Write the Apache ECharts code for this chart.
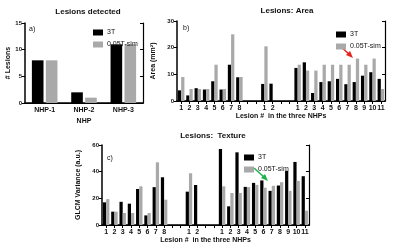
<!DOCTYPE html>
<html>
<head>
<meta charset="utf-8">
<script src="https://cdn.jsdelivr.net/npm/echarts@6/dist/echarts.min.js"></script>
<style>
  html, body { margin: 0; padding: 0; background: #fff; }
  #chart { width: 400px; height: 249px; }
</style>
</head>
<body>
<div id="chart"></div>
<script>
// panel a - lesions detected per NHP
var nhpNames = ['NHP-1', 'NHP-2', 'NHP-3'];
var detected3T = [8, 2, 11];
var detectedSim = [8, 1, 11];

// panel b / c share the lesion axis (empty slots separate the three NHPs)
var lesionLabels = ['1','2','3','4','5','6','7','8','','','1','2','','','1','2','3','4','5','6','7','8','9','10','11'];
var area3T  = [4, 2.1, 4.8, 4.3, 7.4, 4.3, 13.6, 8.9, null, null, 6.4, 6.5, null, null, 12.4, 14.5, 3, 7.1, 7.4, 8.3, 6.3, 7.1, 9.5, 10.8, 8.3];
var areaSim = [9, 4.5, 4.5, 4.5, 13.6, 4.5, 25, 9, null, null, 20.5, null, null, null, 13.6, 11.4, 11.4, 13.6, 13.6, 13.6, 13.6, 15.9, 13.6, 15.9, 4.5];
var tex3T   = [17, 10, 17.4, 16, 27, 7.2, 28.4, 35.8, null, null, 25, 30, null, null, 57, 14, 54.5, 28.6, 31.6, 33.4, 25.6, 29.6, 40.6, 47.3, 36.6];
var texSim  = [19.4, 10, 9, 9, 29, 9, 47, 19, null, null, 38.8, null, null, null, 29, 24, 24, 28.4, 30.1, 28, 29.4, 32.1, 25.6, 33.1, 10.7];

var BLACK = '#000000', GRAY = '#a9a9a9';
var FONT = 'Liberation Sans';
var txt = { fontFamily: FONT, fontWeight: 'bold', color: '#111', fontSize: 7 };

var chart = echarts.init(document.getElementById('chart'));

function bottomAxis(idx, data, name, showTicks, gap) {
  return {
    type: 'category', gridIndex: idx, data: data, position: 'bottom',
    name: name, nameLocation: 'middle', nameGap: gap,
    nameTextStyle: Object.assign({}, txt, { fontSize: 7 }),
    axisLine: { lineStyle: { color: '#000', width: 1.5 } },
    axisTick: { show: showTicks, alignWithLabel: true, interval: 0, length: 3, lineStyle: { color: '#000' } },
    axisLabel: Object.assign({}, txt, { interval: 0, margin: 4 }),
    splitLine: { show: false }
  };
}
function topAxis(idx, data) {
  return {
    type: 'category', gridIndex: idx, data: data, position: 'top',
    axisLine: { lineStyle: { color: '#000', width: 1.2 } },
    axisTick: { show: data.length > 3, inside: true, alignWithLabel: true, interval: 0, length: 3, lineStyle: { color: '#000' } },
    axisLabel: { show: false }, splitLine: { show: false }
  };
}
function leftAxis(idx, max, interval, name, gap) {
  return {
    type: 'value', gridIndex: idx, min: 0, max: max, interval: interval,
    name: name, nameLocation: 'middle', nameGap: gap,
    nameTextStyle: Object.assign({}, txt, { fontSize: 7 }),
    axisLine: { show: true, lineStyle: { color: '#000', width: 1.5 } },
    axisTick: { show: true, length: 3, lineStyle: { color: '#000' } },
    axisLabel: Object.assign({}, txt, { fontSize: 6, margin: 3 }),
    splitLine: { show: false }
  };
}
function rightAxis(idx, max, interval) {
  return {
    type: 'value', gridIndex: idx, min: 0, max: max, interval: interval, position: 'right',
    axisLine: { show: true, lineStyle: { color: '#000', width: 1.2 } },
    axisTick: { show: true, inside: true, length: 3, lineStyle: { color: '#000' } },
    axisLabel: { show: false }, splitLine: { show: false }
  };
}
function bars(name, color, xi, yi, data, gap, cat) {
  return {
    type: 'bar', name: name, xAxisIndex: xi, yAxisIndex: yi, data: data,
    barGap: gap, barCategoryGap: cat,
    itemStyle: { color: color }
  };
}
function legendAt(left, top) {
  return {
    left: left, top: top, orient: 'vertical', itemWidth: 10, itemHeight: 6, itemGap: 5,
    data: [{ name: '3T', icon: 'rect' }, { name: '0.05T-sim', icon: 'rect' }],
    textStyle: { fontFamily: FONT, fontSize: 7, color: '#111', padding: [0, 0, 0, -1] }
  };
}

chart.setOption({
  animation: false,
  title: [
    { text: 'Lesions detected', left: 83, top: 3, textAlign: 'center', textStyle: Object.assign({}, txt, { fontSize: 8 }) },
    { text: 'Lesions: Area', left: 282, top: 2, textAlign: 'center', textStyle: Object.assign({}, txt, { fontSize: 8 }) },
    { text: 'Lesions:  Texture', left: 208, top: 127, textAlign: 'center', textStyle: Object.assign({}, txt, { fontSize: 8 }) }
  ],
  legend: [legendAt(88, 24), legendAt(331, 26), legendAt(239, 149)],
  grid: [
    { left: 25, top: 23, width: 118, height: 80 },
    { left: 177, top: 21, width: 208, height: 80 },
    { left: 102, top: 145, width: 207, height: 80 }
  ],
  xAxis: [
    bottomAxis(0, nhpNames, 'NHP', false, 15),
    topAxis(0, nhpNames),
    bottomAxis(1, lesionLabels, 'Lesion #  in the three NHPs', true, 12),
    topAxis(1, lesionLabels),
    bottomAxis(2, lesionLabels, 'Lesion #  in the three NHPs', true, 12),
    topAxis(2, lesionLabels)
  ],
  yAxis: [
    leftAxis(0, 15, 5, '# Lesions', 12),
    rightAxis(0, 15, 5),
    leftAxis(1, 30, 10, 'Area (mm²)', 10),
    rightAxis(1, 30, 10),
    leftAxis(2, 60, 20, 'GLCM Variance (a.u.)', 13),
    rightAxis(2, 60, 20)
  ],
  series: [
    bars('3T', BLACK, 0, 0, detected3T, '20%', '35%'),
    bars('0.05T-sim', GRAY, 0, 0, detectedSim, '20%', '35%'),
    bars('3T', BLACK, 2, 2, area3T, '0%', '22%'),
    bars('0.05T-sim', GRAY, 2, 2, areaSim, '0%', '22%'),
    bars('3T', BLACK, 4, 4, tex3T, '0%', '22%'),
    bars('0.05T-sim', GRAY, 4, 4, texSim, '0%', '22%')
  ],
  graphic: [
    { type: 'text', left: 29, top: 26, style: { text: 'a)', font: '7px ' + FONT, fill: '#111' } },
    { type: 'text', left: 183, top: 25, style: { text: 'b)', font: '7px ' + FONT, fill: '#111' } },
    { type: 'text', left: 107, top: 155, style: { text: 'c)', font: '7px ' + FONT, fill: '#111' } },
    // red arrow (panel b)
    { type: 'line', shape: { x1: 339, y1: 45, x2: 350, y2: 55 }, style: { stroke: '#e8211b', lineWidth: 1.5 } },
    { type: 'polygon', shape: { points: [[353, 58], [346, 55], [350, 51]] }, style: { fill: '#e8211b' } },
    // green arrow (panel c)
    { type: 'line', shape: { x1: 254, y1: 168, x2: 265, y2: 178 }, style: { stroke: '#1db24b', lineWidth: 1.5 } },
    { type: 'polygon', shape: { points: [[268, 181], [261, 178], [265, 174]] }, style: { fill: '#1db24b' } }
  ]
});
</script>
</body>
</html>
